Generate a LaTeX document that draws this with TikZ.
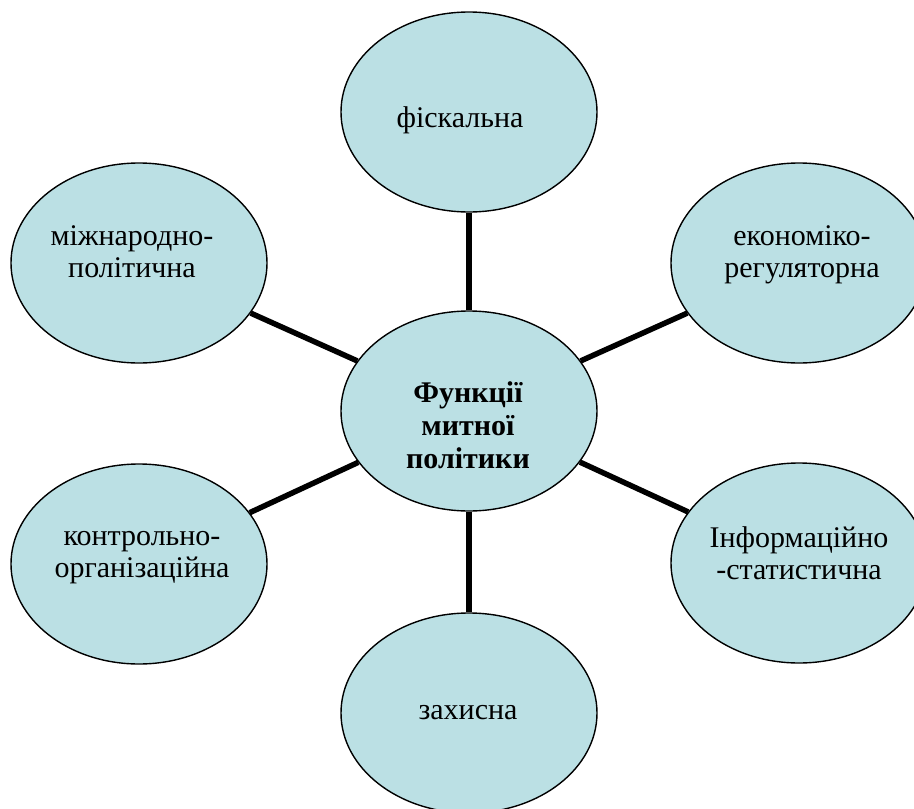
\documentclass[tikz,border=0pt]{standalone}
\usepackage{fontspec}
\setmainfont{Liberation Serif}[Ligatures=TeX]
\newfontfamily\cyrserif{Liberation Serif}
\usetikzlibrary{shapes.geometric}
\definecolor{bubblefill}{RGB}{187,224,228}
\begin{document}
\begin{tikzpicture}[x=1pt,y=-1pt,
  bubble/.style={ellipse, draw=black, line width=1.4pt, fill=bubblefill,
    minimum width=256pt, minimum height=200pt, inner sep=0pt},
  txt/.style={align=center, font=\cyrserif\fontsize{30}{32}\selectfont, inner sep=0pt},
  hubtxt/.style={align=center, font=\cyrserif\fontsize{30}{33}\selectfont\bfseries, inner sep=0pt},
  spoke/.style={line width=5.5pt, draw=black}]
\path[use as bounding box, clip] (0,0) rectangle (914,809);
% ellipses
\node[bubble] (c)  at (469,411) {};
\node[bubble] (t)  at (469,112) {};
\node[bubble] (b)  at (469,713) {};
\node[bubble] (lt) at (139,263) {};
\node[bubble] (lb) at (139,564) {};
\node[bubble] (rt) at (799,263) {};
\node[bubble] (rb) at (799,563) {};
% connectors
\draw[spoke] (c) -- (t);
\draw[spoke] (c) -- (b);
\draw[spoke] (c) -- (lt);
\draw[spoke] (c) -- (lb);
\draw[spoke] (c) -- (rt);
\draw[spoke] (c) -- (rb);
% texts
\node[hubtxt] (ctxt) at (468,428.4) {\strut Функції\\\strut митної\\\strut політики};
\node[txt] (ttxt)  at (460,120.6) {\strut фіскальна};
\node[txt] (btxt)  at (468,712.6) {\strut захисна};
\node[txt] (lttxt) at (132,254.6) {\strut міжнародно-\\\strut політична};
\node[txt] (lbtxt) at (142,555) {\strut контрольно-\\\strut організаційна};
\node[txt] (rttxt) at (802,254.6) {\strut економіко-\\\strut регуляторна};
\node[txt] (rbtxt) at (799,557) {\strut Інформаційно\\\strut -статистична};
\end{tikzpicture}
\end{document}
